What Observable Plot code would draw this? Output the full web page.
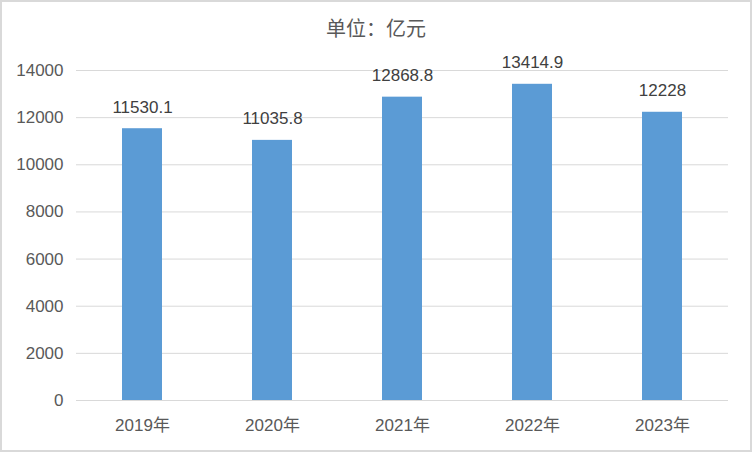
<!DOCTYPE html>
<html>
<head>
<meta charset="utf-8">
<script src="https://cdn.jsdelivr.net/npm/d3@7"></script>
<script src="https://cdn.jsdelivr.net/npm/@observablehq/plot@0.6"></script>
<style>
  html, body { margin: 0; padding: 0; background: #fff; }
  #wrap { position: relative; width: 752px; height: 452px; overflow: hidden; }
  #border { position: absolute; left: 0; top: 0; width: 752px; height: 452px; box-sizing: border-box; border: 2px solid #d9d9d9; pointer-events: none; }
  #title { position: absolute; left: 0; width: 752px; top: 19px; line-height: 20px; text-align: center; font-size: 20px; font-family: "Liberation Sans", "Noto Sans CJK SC", sans-serif; color: #595959; }
  #chart svg text { font-family: "Liberation Sans", "Noto Sans CJK SC", sans-serif; }
</style>
</head>
<body>
<div id="wrap">
  <div id="chart"></div>
  <div id="title">单位：亿元</div>
  <div id="border"></div>
</div>
<script>
const years = ["2019年", "2020年", "2021年", "2022年", "2023年"];
const values = [11530.1, 11035.8, 12868.8, 13414.9, 12228];
const valueLabels = ["11530.1", "11035.8", "12868.8", "13414.9", "12228"];
const yTicks = [0, 2000, 4000, 6000, 8000, 10000, 12000, 14000];

const data = years.map((y, i) => ({year: y, value: values[i], label: valueLabels[i]}));

const chart = Plot.plot({
  width: 752,
  height: 452,
  marginLeft: 76,
  marginRight: 24,
  marginTop: 70,
  marginBottom: 52,
  style: {fontSize: "17px", color: "#595959", background: "transparent"},
  x: {domain: years, paddingInner: 0.69, paddingOuter: 0.345, label: null},
  y: {domain: [0, 14000], label: null},
  marks: [
    Plot.gridY(yTicks, {stroke: "#d9d9d9", strokeOpacity: 1, strokeWidth: 1}),
    Plot.axisY(yTicks, {tickSize: 0, tickPadding: 13, tickFormat: d => String(d), fontSize: 17, fill: "#595959", label: null}),
    Plot.axisX(years, {tickSize: 0, tickPadding: 18, fontSize: 17, fill: "#595959", label: null}),
    Plot.barY(data, {x: "year", y: "value", fill: "#5b9bd5"}),
    Plot.ruleY([0], {stroke: "#d9d9d9", strokeWidth: 1}),
    Plot.text(data, {x: "year", y: "value", text: "label", lineAnchor: "bottom", dy: -16, fill: "#404040", fontSize: 17})
  ]
});
document.getElementById("chart").appendChild(chart);
</script>
</body>
</html>
